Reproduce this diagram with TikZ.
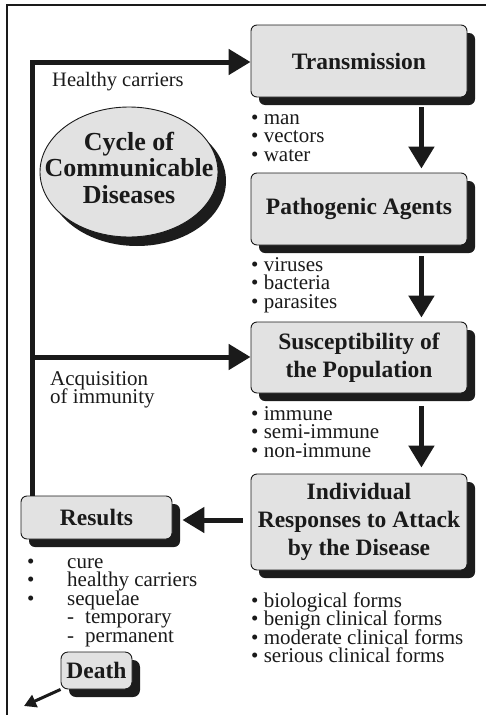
\documentclass[tikz,border=0pt]{standalone}
\usepackage{fontspec}
\setmainfont{Liberation Serif}
\usetikzlibrary{arrows.meta,shapes.geometric,shadows,calc}
\definecolor{boxfill}{HTML}{E2E2E2}
\definecolor{shade}{HTML}{1C1C1C}
\definecolor{ink}{HTML}{1A1A1A}
% fixed height for the first line of each list
\newcommand{\listtop}{\rule{0pt}{15pt}}
% tight list lines keep an even baseline distance
\newcommand{\listfont}{\fontsize{21}{18.5}\selectfont\lineskiplimit=-30pt\relax}

\begin{document}
\begin{tikzpicture}[x=1pt,y=-1pt,
  darkshadow/.style={drop shadow={shadow xshift=8pt,shadow yshift=-8pt,fill=shade,opacity=1}},
  stagebox/.style={draw=ink, line width=0.9pt, fill=boxfill, rounded corners=6pt,
    inner sep=0pt, align=center, text=ink, darkshadow,
    font=\fontsize{23.5}{28}\selectfont\bfseries},
  bigarrow/.style={draw=ink, line width=5pt, -{Triangle[length=22pt,width=25pt]}},
  smallarrow/.style={draw=ink, line width=3pt, -{Triangle[length=12pt,width=13pt]}},
  textlist/.style={anchor=north west, inner sep=0pt, align=left, text=ink, font=\listfont},
  note/.style={anchor=base west, inner sep=0pt, text=ink, font=\fontsize{20.5}{18}\selectfont},
]
\useasboundingbox (0,0) rectangle (486,715);

% open frame: top and left edges
\draw[ink, line width=2.5pt] (7,715) -- (7,5) -- (486,5);

% stages of the cycle
\node[stagebox, minimum width=216pt, minimum height=72pt] (transmission) at (359,61) {Transmission};
\node[stagebox, minimum width=216pt, minimum height=72pt] (pathogenic) at (359,209) {Pathogenic Agents};
\node[stagebox, minimum width=216pt, minimum height=71pt] (susceptibility) at (359,357.5) {Susceptibility of\\the Population};
\node[stagebox, minimum width=216pt, minimum height=96pt] (individual) at (359,522) {Individual\\Responses to Attack\\by the Disease};
\node[stagebox, minimum width=151pt, minimum height=43pt] (results) at (96.5,517.5) {Results};
\node[stagebox, minimum width=71pt, minimum height=37pt, rounded corners=7pt] (death) at (96.5,670.5) {Death};

% title ellipse
\node[ellipse, draw=ink, line width=0.9pt, fill=boxfill, inner sep=0pt,
  minimum width=178pt, minimum height=130pt,
  drop shadow={shadow xshift=8pt,shadow yshift=-9pt,fill=shade,opacity=1}] (cyclenode) at (129,172) {};
\node[align=center, inner sep=0pt, text=ink, font=\fontsize{26}{26.5}\selectfont\bfseries]
  (cycletitle) at (129,167.5) {Cycle of\\Communicable\\Diseases};

% downward flow between stages
\draw[bigarrow] ($(transmission.south east)+(-46,10)$) -- ($(pathogenic.north east)+(-46,-4)$);
\draw[bigarrow] ($(pathogenic.south east)+(-46,11)$) -- ($(susceptibility.north east)+(-46,-4)$);
\draw[bigarrow] ($(susceptibility.south east)+(-46,13)$) -- ($(individual.north east)+(-46,-6)$);

% responses lead to results
\coordinate (respond) at ($(individual.west)+(-8,-2)$);
\draw[bigarrow] (respond) -- ($(respond -| results.east)+(10,0)$);

% feedback spine from results
\coordinate (spine) at (32,62);
\coordinate (branch) at (32,357);
\draw[bigarrow] (spine |- results.north) -- (spine) -- (spine -| transmission.west);
\draw[bigarrow] (branch) -- (branch -| susceptibility.west);

% death exit
\coordinate (exit) at (24,706);
\draw[smallarrow] (death.south west) -- (exit);

% side labels
\node[note] (healthy) at (52,86) {Healthy carriers};
\node[textlist] (acquisition) at (50,370) {\listtop Acquisition\\of immunity};

% lists under the stages
\node[textlist] (transmissionlist) at (251,109) {\listtop• man\\• vectors\\• water};
\node[textlist] (agentlist) at (251,256) {\listtop• viruses\\• bacteria\\• parasites};
\node[textlist] (immunelist) at (251,405) {\listtop• immune\\• semi-immune\\• non-immune};
\node[textlist] (formlist) at (251,592) {\listtop• biological forms\\• benign clinical forms\\• moderate clinical forms\\• serious clinical forms};
\node[textlist] (resultlist) at (27,553) {\listtop\makebox[40pt][l]{•}cure\\
  \makebox[40pt][l]{•}healthy carriers\\
  \makebox[40pt][l]{•}sequelae\\
  \hspace*{40pt}\makebox[18pt][l]{-}temporary\\
  \hspace*{40pt}\makebox[18pt][l]{-}permanent};
\end{tikzpicture}
\end{document}
